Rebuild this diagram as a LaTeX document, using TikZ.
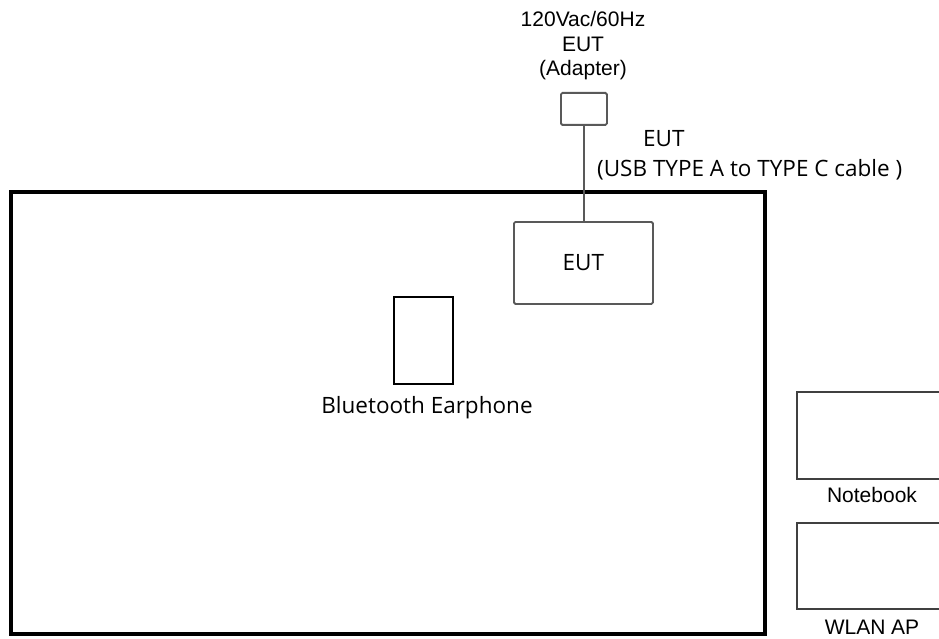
\documentclass[tikz,border=0pt]{standalone}
\usepackage{fontspec}
\setmainfont{Liberation Sans}
\newfontfamily\segoe{Open Sans}
\begin{document}
\begin{tikzpicture}[x=1pt,y=-1pt,
  graybox/.style={draw=black!65,line width=1.8pt,rounded corners=1.5pt,inner sep=0pt,anchor=north west},
  thinbox/.style={draw=black,line width=1.5pt,inner sep=0pt,anchor=north west},
  arial/.style={font=\fontsize{21}{24}\selectfont,inner sep=0pt},
  segtxt/.style={font=\segoe\fontsize{22.5}{26}\selectfont,inner sep=0pt},
  cable/.style={draw=black!65,line width=1.8pt}]
\useasboundingbox (0,0) rectangle (939,639);
% main table
\draw[line width=4pt,black] (10.5,192) rectangle (765,634);
% adapter
\node[graybox,minimum width=46pt,minimum height=32pt] (adp) at (560,92) {};
\node[arial] (t1) at (583,19) {120Vac/60Hz};
\node[arial] (t2) at (583,44) {EUT};
\node[arial] (t3) at (583,70) {(Adapter)};
% EUT
\node[graybox,minimum width=139pt,minimum height=82pt] (eut) at (513,221) {};
\node[segtxt] at (eut.center) {EUT};
\draw[cable] (adp.south) -- (adp.south |- eut.north);
% cable label
\node[segtxt,anchor=west] (c1) at (643,139) {EUT};
\node[segtxt,anchor=west] (c2) at (597,170) {(USB TYPE A to TYPE C cable )};
% earphone
\node[thinbox,minimum width=59pt,minimum height=87pt] (ear) at (393,296) {};
\node[segtxt] (earl) at (427,408) {Bluetooth Earphone};
% notebook
\node[graybox,draw=black!75,rounded corners=0pt,minimum width=143pt,minimum height=87pt] (nb) at (796,391) {};
\node[arial] (nbl) at (872,495) {Notebook};
% WLAN AP
\node[graybox,draw=black!75,rounded corners=0pt,minimum width=143pt,minimum height=86pt] (ap) at (796,522) {};
\node[arial] (apl) at (872,627) {WLAN AP};
\end{tikzpicture}
\end{document}
